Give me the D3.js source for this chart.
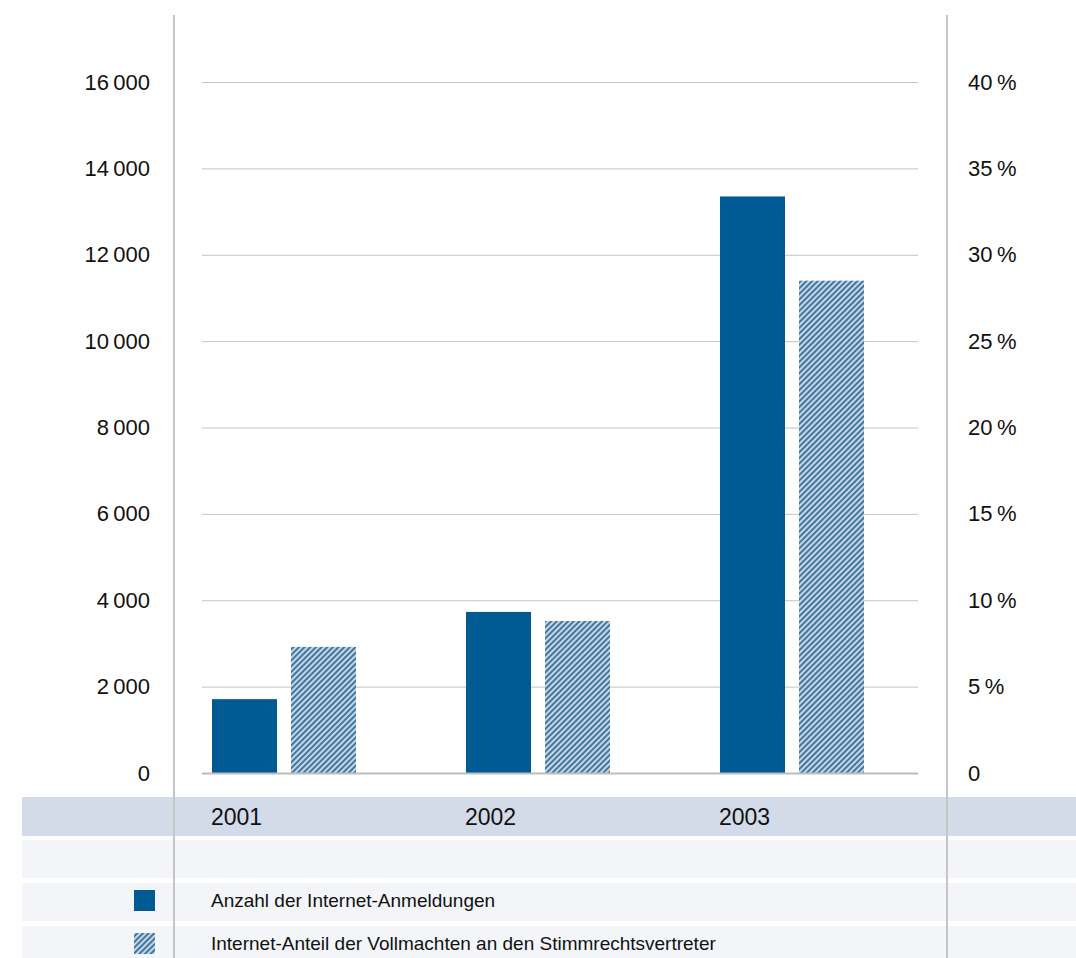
<!DOCTYPE html>
<html>
<head>
<meta charset="utf-8">
<script src="https://cdn.jsdelivr.net/npm/d3@7"></script>
<style>
  body { margin: 0; background: #fff; }
  svg { display: block; font-family: "Liberation Sans", Arial, sans-serif; }
</style>
</head>
<body>
<div id="chart"></div>
<script>
// data
const years = ["2001", "2002", "2003"];
const registrations = [1710, 3730, 13350];      // Anzahl der Internet-Anmeldungen
const proxyShare = [7.3, 8.8, 28.5];            // Internet-Anteil der Vollmachten (%)
const leftTicks = [0, 2000, 4000, 6000, 8000, 10000, 12000, 14000, 16000];
const rightTicks = [0, 5, 10, 15, 20, 25, 30, 35, 40];
const legendLabels = ["Anzahl der Internet-Anmeldungen", "Internet-Anteil der Vollmachten an den Stimmrechtsvertreter"];

const W = 1076, H = 958;
const blue = "#005b94";
const plot = { left: 202, right: 918, top: 82, bottom: 773 };

const svg = d3.select("#chart").append("svg")
    .attr("width", W).attr("height", H);

// hatch pattern
const defs = svg.append("defs");
const pat = defs.append("pattern")
    .attr("id", "hatch")
    .attr("patternUnits", "userSpaceOnUse")
    .attr("width", 4).attr("height", 4)
    .attr("patternTransform", "rotate(45)");
pat.append("rect").attr("width", 4).attr("height", 4).attr("fill", "#c9d5e1");
pat.append("rect").attr("width", 2).attr("height", 4).attr("fill", "#3f78a3");

// scales
const yLeft = d3.scaleLinear().domain([0, 16000]).range([plot.bottom, plot.top]);
const yRight = d3.scaleLinear().domain([0, 40]).range([plot.bottom, plot.top]);
const x = d3.scaleBand().domain(years).range([plot.left, plot.left + 3 * 254]).paddingInner(0).paddingOuter(0);
const sub = d3.scaleOrdinal().domain(["a", "b"]).range([10, 89]);
const barW = 65;

// table bands at the bottom
const bands = [
    { y: 797, h: 39, c: "#d3dae8" },
    { y: 840, h: 38, c: "#f3f5f9" },
    { y: 883, h: 38, c: "#f3f5f9" },
    { y: 926, h: 32, c: "#f3f5f9" }
];
svg.append("g").selectAll("rect").data(bands).join("rect")
    .attr("x", 22).attr("y", d => d.y)
    .attr("width", W - 22).attr("height", d => d.h)
    .attr("fill", d => d.c);

// gridlines
svg.append("g").selectAll("line").data(leftTicks.slice(1)).join("line")
    .attr("x1", plot.left).attr("x2", plot.right)
    .attr("y1", d => yLeft(d) + 0.5).attr("y2", d => yLeft(d) + 0.5)
    .attr("stroke", "#c4c4c4").attr("stroke-width", 1);

// left axis labels
const fmt = d => d3.format(",")(d).replace(/,/g, "\u2009");
svg.append("g")
    .attr("transform", "translate(150,0)")
    .call(d3.axisLeft(yLeft).tickValues(leftTicks).tickSize(0).tickPadding(0).tickFormat(fmt))
    .call(g => g.select(".domain").remove())
    .call(g => g.selectAll("text")
        .attr("font-family", "Liberation Sans, Arial, sans-serif")
        .attr("font-size", 22).attr("fill", "#111"));

// right axis labels
svg.append("g")
    .attr("transform", "translate(968,0)")
    .call(d3.axisRight(yRight).tickValues(rightTicks).tickSize(0).tickPadding(0)
        .tickFormat(d => d === 0 ? "0" : d + "\u2009%"))
    .call(g => g.select(".domain").remove())
    .call(g => g.selectAll("text")
        .attr("font-family", "Liberation Sans, Arial, sans-serif")
        .attr("font-size", 22).attr("fill", "#111"));

// bars
svg.append("g").selectAll("rect").data(years).join("rect")
    .attr("x", (d) => x(d) + sub("a"))
    .attr("y", (d, i) => yLeft(registrations[i]))
    .attr("width", barW)
    .attr("height", (d, i) => yLeft(0) - yLeft(registrations[i]))
    .attr("fill", blue);

svg.append("g").selectAll("rect").data(years).join("rect")
    .attr("x", (d) => x(d) + sub("b"))
    .attr("y", (d, i) => yRight(proxyShare[i]))
    .attr("width", barW)
    .attr("height", (d, i) => yRight(0) - yRight(proxyShare[i]))
    .attr("fill", "url(#hatch)");

// baseline
svg.append("line")
    .attr("x1", plot.left).attr("x2", plot.right)
    .attr("y1", plot.bottom + 0.5).attr("y2", plot.bottom + 0.5)
    .attr("stroke", "#bdbdbd").attr("stroke-width", 2);

// vertical separators
[174, 947].forEach(vx => {
    svg.append("line")
        .attr("x1", vx).attr("x2", vx).attr("y1", 15).attr("y2", H)
        .attr("stroke", "#c6c6c6").attr("stroke-width", 2);
});

// year labels
svg.append("g").selectAll("text").data(years).join("text")
    .attr("x", d => x(d) + 9)
    .attr("y", 825)
    .attr("font-size", 23).attr("fill", "#111")
    .text(d => d);

// legend
const legend = svg.append("g");
legendLabels.forEach((label, i) => {
    const ly = 890 + i * 43;
    legend.append("rect")
        .attr("x", 134).attr("y", ly).attr("width", 21).attr("height", 21)
        .attr("fill", i === 0 ? blue : "url(#hatch)");
    legend.append("text")
        .attr("x", 211).attr("y", ly + 17)
        .attr("font-size", 19).attr("fill", "#111")
        .text(label);
});
</script>
</body>
</html>
